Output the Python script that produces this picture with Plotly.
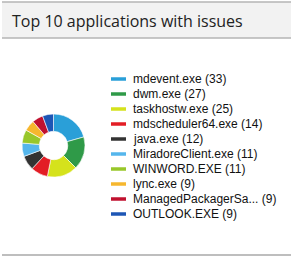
import plotly.graph_objects as go

apps = ["mdevent.exe", "dwm.exe", "taskhostw.exe", "mdscheduler64.exe", "java.exe",
        "MiradoreClient.exe", "WINWORD.EXE", "lync.exe", "ManagedPackagerSa...", "OUTLOOK.EXE"]
counts = [33, 27, 25, 14, 12, 11, 11, 9, 9, 9]
colors = ["#2a9fd8", "#2f9a48", "#d5e21c", "#e31d25", "#333333",
          "#55b6ec", "#98c72a", "#f6b72e", "#c0112f", "#1d56b5"]
title = "Top 10 applications with issues"

W, H = 297, 261
def px(x): return x / W
def py(y): return 1 - y / H

fig = go.Figure()
fig.add_trace(go.Pie(
    labels=apps, values=counts, sort=False, direction="clockwise", rotation=0,
    hole=0.45, marker=dict(colors=colors, line=dict(color="white", width=0.6)),
    textinfo="none", hoverinfo="skip", showlegend=False,
    domain=dict(x=[px(22), px(85)], y=[py(177), py(114)]),
))

shapes = [
    dict(type="rect", xref="paper", yref="paper", x0=px(2), x1=px(291), y0=py(38), y1=py(2),
         fillcolor="#f2f2f2", line=dict(width=0), layer="below"),
    dict(type="line", xref="paper", yref="paper", x0=px(2), x1=px(291), y0=py(2), y1=py(2),
         line=dict(color="#b4b4b4", width=1.5)),
    dict(type="line", xref="paper", yref="paper", x0=px(2), x1=px(291), y0=py(38), y1=py(38),
         line=dict(color="#b4b4b4", width=1.5)),
    dict(type="line", xref="paper", yref="paper", x0=px(2), x1=px(291), y0=py(255), y1=py(255),
         line=dict(color="#a8a8a8", width=1.5)),
]
annotations = [
    dict(text=title, xref="paper", yref="paper", x=px(10), y=py(21), xanchor="left",
         yanchor="middle", showarrow=False, font=dict(family="Open Sans", size=16, color="#222222")),
]
for i, (a, c, col) in enumerate(zip(apps, counts, colors)):
    yc = 79 + 15 * i
    shapes.append(dict(type="line", xref="paper", yref="paper", x0=px(111), x1=px(126),
                       y0=py(yc), y1=py(yc), line=dict(color=col, width=3.5)))
    annotations.append(dict(text=f"{a} ({c})", xref="paper", yref="paper", x=px(131), y=py(yc),
                            xanchor="left", yanchor="middle", showarrow=False,
                            font=dict(family="Liberation Sans, Arial", size=12, color="#111111")))

fig.update_layout(width=W, height=H, autosize=False, margin=dict(l=0, r=0, t=0, b=0),
                  paper_bgcolor="white", plot_bgcolor="white",
                  shapes=shapes, annotations=annotations)
fig.write_html("out.html")
